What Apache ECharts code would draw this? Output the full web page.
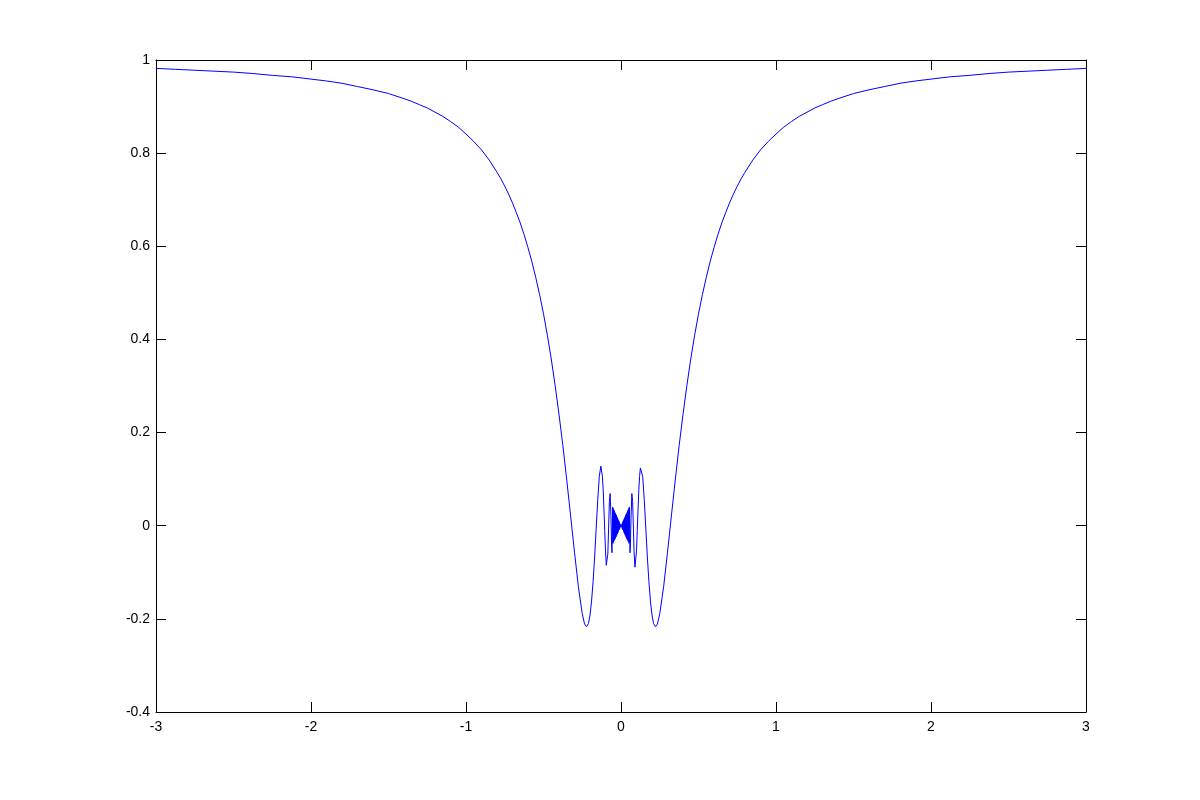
<!DOCTYPE html>
<html>
<head>
<meta charset="utf-8">
<script src="https://cdn.jsdelivr.net/npm/echarts@6/dist/echarts.min.js"></script>
<style>html,body{margin:0;padding:0;background:#fff;}#chart{width:1200px;height:800px;}</style>
</head>
<body>
<div id="chart"></div>
<script>
// Values (left half, x ascending)
const xLeft = [-3, -2.875, -2.75, -2.625, -2.5, -2.375, -2.25, -2.125, -2, -1.9, -1.8, -1.7, -1.6, -1.5, -1.4, -1.35, -1.3, -1.25, -1.2, -1.15, -1.1, -1.05, -1, -0.95, -0.9, -0.85, -0.8, -0.775, -0.75, -0.725, -0.7, -0.675, -0.65, -0.625, -0.6, -0.575, -0.55, -0.525, -0.5, -0.475, -0.45, -0.425, -0.4, -0.375, -0.35, -0.325, -0.3, -0.275, -0.25, -0.235, -0.2225, -0.21, -0.2, -0.19, -0.18, -0.17, -0.16, -0.15, -0.14, -0.13, -0.125, -0.12, -0.115, -0.11, -0.105, -0.1, -0.095, -0.09, -0.085, -0.08, -0.075, -0.07, -0.065, -0.06, -0.058, -0.054, -0.052, -0.05, -0.048, -0.046, -0.044, -0.042, -0.04, -0.038, -0.036, -0.034, -0.032, -0.03, -0.028, -0.026, -0.024, -0.022, -0.02, -0.018, -0.016, -0.014, -0.012, -0.01, -0.008, -0.006, -0.004, -0.002];
const yLeft = [0.982, 0.980, 0.978, 0.976, 0.974, 0.971, 0.967, 0.964, 0.959, 0.955, 0.950, 0.943, 0.936, 0.928, 0.917, 0.911, 0.904, 0.897, 0.888, 0.879, 0.868, 0.856, 0.841, 0.825, 0.807, 0.785, 0.759, 0.745, 0.729, 0.712, 0.693, 0.672, 0.650, 0.625, 0.597, 0.567, 0.533, 0.496, 0.455, 0.409, 0.358, 0.301, 0.239, 0.172, 0.098, 0.021, -0.057, -0.131, -0.189, -0.211, -0.217, -0.210, -0.192, -0.162, -0.120, -0.067, -0.005, 0.056, 0.106, 0.128, 0.124, 0.106, 0.077, 0.036, -0.010, -0.054, -0.085, -0.089, -0.061, -0.005, 0.052, 0.069, 0.021, -0.049, -0.058, 0.040, -0.038, 0.037, -0.035, 0.034, -0.032, 0.031, -0.029, 0.028, -0.027, 0.025, -0.024, 0.022, -0.021, 0.019, -0.018, 0.016, -0.015, 0.013, -0.012, 0.010, -0.009, 0.007, -0.006, 0.004, -0.003, 0.002];
// centre point
const xCenter = [0];
const yCenter = [0];
// right half, x ascending
const xRight = [0.002, 0.004, 0.006, 0.008, 0.01, 0.012, 0.014, 0.016, 0.018, 0.02, 0.022, 0.024, 0.026, 0.028, 0.03, 0.032, 0.034, 0.036, 0.038, 0.04, 0.042, 0.044, 0.046, 0.048, 0.05, 0.052, 0.054, 0.058, 0.06, 0.065, 0.07, 0.075, 0.08, 0.085, 0.09, 0.095, 0.1, 0.105, 0.11, 0.115, 0.12, 0.125, 0.13, 0.14, 0.15, 0.16, 0.17, 0.18, 0.19, 0.2, 0.21, 0.2225, 0.235, 0.25, 0.275, 0.3, 0.325, 0.35, 0.375, 0.4, 0.425, 0.45, 0.475, 0.5, 0.525, 0.55, 0.575, 0.6, 0.625, 0.65, 0.675, 0.7, 0.725, 0.75, 0.775, 0.8, 0.85, 0.9, 0.95, 1, 1.05, 1.1, 1.15, 1.2, 1.25, 1.3, 1.35, 1.4, 1.5, 1.6, 1.7, 1.8, 1.9, 2, 2.125, 2.25, 2.375, 2.5, 2.625, 2.75, 2.875, 3];
const yRight = [0.002, -0.003, 0.004, -0.006, 0.007, -0.009, 0.010, -0.012, 0.013, -0.015, 0.016, -0.018, 0.019, -0.021, 0.022, -0.024, 0.025, -0.027, 0.028, -0.029, 0.031, -0.032, 0.034, -0.035, 0.037, -0.038, 0.040, -0.058, -0.049, 0.021, 0.069, 0.052, -0.005, -0.061, -0.089, -0.085, -0.054, -0.010, 0.036, 0.077, 0.106, 0.124, 0.128, 0.106, 0.056, -0.005, -0.067, -0.120, -0.162, -0.192, -0.210, -0.217, -0.211, -0.189, -0.131, -0.057, 0.021, 0.098, 0.172, 0.239, 0.301, 0.358, 0.409, 0.455, 0.496, 0.533, 0.567, 0.597, 0.625, 0.650, 0.672, 0.693, 0.712, 0.729, 0.745, 0.759, 0.785, 0.807, 0.825, 0.841, 0.856, 0.868, 0.879, 0.888, 0.897, 0.904, 0.911, 0.917, 0.928, 0.936, 0.943, 0.950, 0.955, 0.959, 0.964, 0.967, 0.971, 0.974, 0.976, 0.978, 0.980, 0.982];

const xTicks = [-3, -2, -1, 0, 1, 2, 3];
const yTicks = [-0.4, -0.2, 0, 0.2, 0.4, 0.6, 0.8, 1];

const xs = xLeft.concat(xCenter, xRight);
const ys = yLeft.concat(yCenter, yRight);
const data = xs.map((x, i) => [x, ys[i]]);

const chart = echarts.init(document.getElementById('chart'), null, {renderer: 'canvas'});
const labelStyle = {color: '#000', fontSize: 14, fontFamily: 'Liberation Sans, Arial, sans-serif'};
const axisBase = {
  type: 'value',
  axisLine: {show: true, onZero: false, lineStyle: {color: '#000', width: 1}},
  axisTick: {show: true, inside: true, length: 10, lineStyle: {color: '#000', width: 1}},
  splitLine: {show: false}
};
chart.setOption({
  backgroundColor: '#ffffff',
  animation: false,
  grid: {left: 156, right: 114, top: 60, bottom: 88, containLabel: false},
  xAxis: [
    Object.assign({}, axisBase, {
      position: 'bottom', min: xTicks[0], max: xTicks[xTicks.length - 1], interval: 1,
      axisLabel: Object.assign({margin: 8, formatter: v => String(v)}, labelStyle)
    }),
    Object.assign({}, axisBase, {
      position: 'top', min: xTicks[0], max: xTicks[xTicks.length - 1], interval: 1,
      axisLabel: {show: false}
    })
  ],
  yAxis: [
    Object.assign({}, axisBase, {
      position: 'left', min: yTicks[0], max: yTicks[yTicks.length - 1], interval: 0.2,
      axisLabel: Object.assign({margin: 6, formatter: v => String(Math.round(v * 10) / 10)}, labelStyle)
    }),
    Object.assign({}, axisBase, {
      position: 'right', min: yTicks[0], max: yTicks[yTicks.length - 1], interval: 0.2,
      axisLabel: {show: false}
    })
  ],
  series: [{
    type: 'line',
    xAxisIndex: 0,
    yAxisIndex: 0,
    data: data,
    showSymbol: false,
    smooth: false,
    lineStyle: {color: '#0000ff', width: 1},
    itemStyle: {color: '#0000ff'}
  }]
});
</script>
</body>
</html>
